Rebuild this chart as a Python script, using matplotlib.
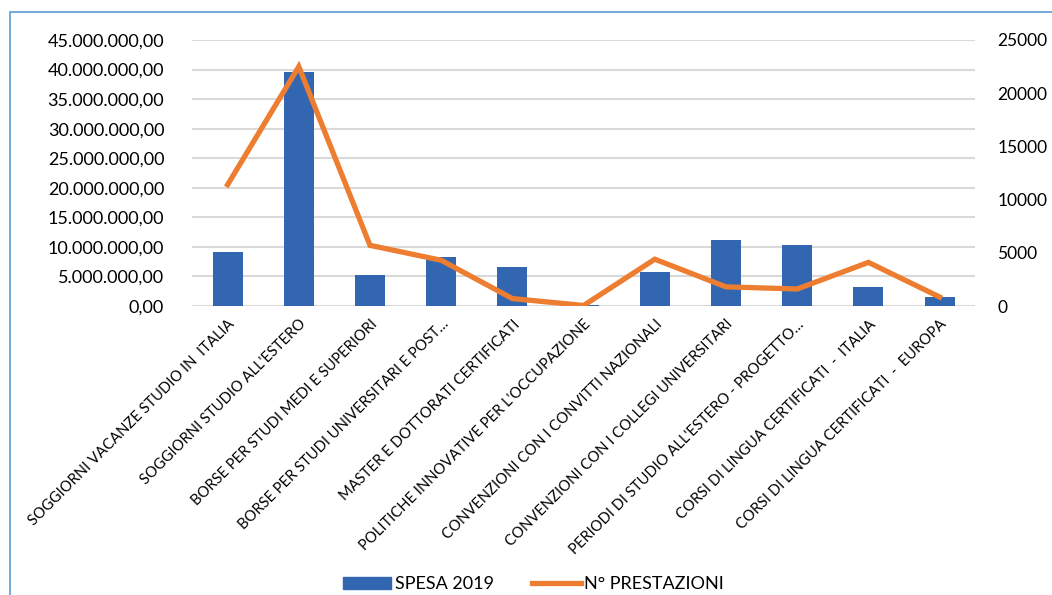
import matplotlib.pyplot as plt
import matplotlib.patches as patches
from matplotlib.lines import Line2D
from matplotlib.ticker import FuncFormatter, MultipleLocator
import numpy as np

plt.rcParams['font.family'] = ['Lato', 'DejaVu Sans']

categories = [
    "SOGGIORNI VACANZE STUDIO IN  ITALIA",
    "SOGGIORNI STUDIO ALL'ESTERO",
    "BORSE PER STUDI MEDI E SUPERIORI",
    "BORSE PER STUDI UNIVERSITARI E POST\u2026",
    "MASTER E DOTTORATI CERTIFICATI",
    "POLITICHE INNOVATIVE PER L'OCCUPAZIONE",
    "CONVENZIONI CON I CONVITTI NAZIONALI",
    "CONVENZIONI CON I COLLEGI UNIVERSITARI",
    "PERIODI DI STUDIO ALL'ESTERO - PROGETTO\u2026",
    "CORSI DI LINGUA CERTIFICATI  -  ITALIA",
    "CORSI DI LINGUA CERTIFICATI  -  EUROPA",
]
spesa_2019 = [9100000, 39500000, 5200000, 8300000, 6600000, 100000,
              5700000, 11200000, 10300000, 3200000, 1500000]
n_prestazioni = [11400, 22500, 5700, 4300, 700, 50,
                 4400, 1800, 1600, 4100, 850]

BAR_COLOR = "#3266b1"
LINE_COLOR = "#ed7d31"


def euro_fmt(v, _pos):
    s = f"{v:,.2f}"
    return s.replace(",", "X").replace(".", ",").replace("X", ".")


fig = plt.figure(figsize=(10.52, 5.95), dpi=100)
ax = fig.add_axes([0.1825, 0.4857, 0.7445, 0.4471])
ax2 = ax.twinx()

x = np.arange(len(categories))
ax.bar(x, spesa_2019, width=0.42, color=BAR_COLOR, zorder=2)
ax2.plot(x, n_prestazioni, color=LINE_COLOR, lw=3.8, solid_joinstyle='miter', zorder=3)

ax.set_xlim(-0.5, len(categories) - 0.5)
ax.set_ylim(0, 45000000)
ax2.set_ylim(0, 25000)
ax.yaxis.set_major_locator(MultipleLocator(5000000))
ax2.yaxis.set_major_locator(MultipleLocator(5000))
ax.yaxis.set_major_formatter(FuncFormatter(euro_fmt))

ax.grid(axis='y', color='#d9d9d9', lw=1.5, zorder=0)
ax.set_axisbelow(True)
for a in (ax, ax2):
    for sp in a.spines.values():
        sp.set_visible(False)
    a.tick_params(length=0, labelsize=13)
ax.tick_params(axis='y', pad=20)
ax2.tick_params(axis='y', pad=16, labelsize=12.5)
ax2.set_zorder(ax.get_zorder() + 1)
ax2.patch.set_visible(False)

ax.set_xticks(x)
ax.set_xticklabels(categories, rotation=45, ha='right', va='top',
                   rotation_mode='anchor', fontsize=10.6)
ax.tick_params(axis='x', pad=8)

# chart frame
fig.patches.append(patches.Rectangle((10 / 1052, -0.05), 1.2, 1 - 12 / 595 + 0.05,
                                     transform=fig.transFigure, fill=False,
                                     edgecolor='#5b9bd5', lw=1.2))

handles = [
    patches.Patch(color=BAR_COLOR, label='SPESA 2019'),
    Line2D([0], [0], color=LINE_COLOR, lw=3.8, label='N° PRESTAZIONI'),
]
fig.legend(handles=handles, loc='center', bbox_to_anchor=(0.507, 0.018), ncol=2,
           frameon=False, fontsize=13, handlelength=2.7, handletextpad=0.2,
           columnspacing=2.1)

fig.savefig("out.png", dpi=100)
